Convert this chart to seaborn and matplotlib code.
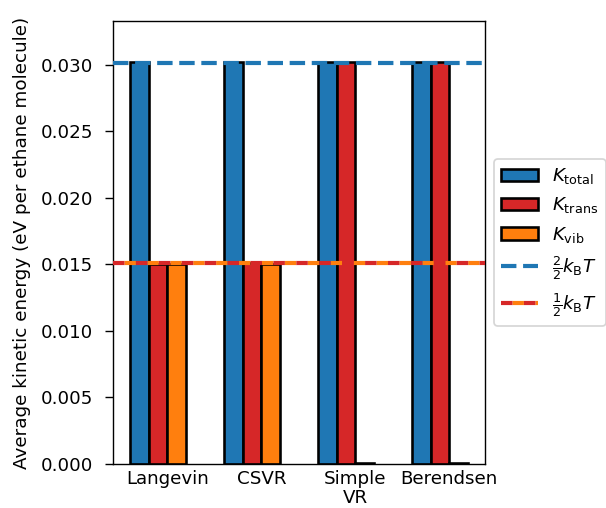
import matplotlib
matplotlib.use("Agg")
import matplotlib.pyplot as plt
from matplotlib.patches import Patch
from matplotlib.lines import Line2D
import numpy as np
import pandas as pd
import seaborn as sns

# Thermostats compared and the mean kinetic energy components (eV per molecule)
thermostats = ["Langevin", "CSVR", "Simple\nVR", "Berendsen"]
k_total = [0.0302, 0.0302, 0.0302, 0.0302]
k_trans = [0.0150, 0.0151, 0.0302, 0.0302]
k_vib = [0.0150, 0.0150, 0.00004, 0.00004]

# Reference lines: 2/2 kB T and 1/2 kB T at T = 350 K
kB = 8.617333e-5
temperature = 350.0
full_kT = 2 / 2 * kB * temperature
half_kT = 1 / 2 * kB * temperature

components = ["total", "trans", "vib"]
slots = components + ["empty"]  # keeps a fourth (empty) slot in each group
colors = {"total": "#1f77b4", "trans": "#d62728", "vib": "#ff7f0e", "empty": "white"}

df = pd.DataFrame({
    "thermostat": np.repeat(thermostats, 3),
    "component": components * len(thermostats),
    "energy": np.ravel(np.column_stack([k_total, k_trans, k_vib])),
})

fig = plt.figure(figsize=(606 / 125, 508 / 125), dpi=125)
ax = fig.add_axes([113 / 606, 1 - 464 / 508, (485 - 113) / 606, (464 - 21) / 508])

sns.barplot(
    data=df, x="thermostat", y="energy", hue="component",
    order=thermostats, hue_order=slots, palette=colors, saturation=1,
    width=0.8, edgecolor="black", linewidth=1.5, legend=False,
    errorbar=None, ax=ax,
)

ax.axhline(full_kT, color="#1f77b4", lw=2.4, ls="--", zorder=5)
ax.axhline(half_kT, color="#d62728", lw=2.4, ls=(0, (2.75, 2.75)),
           gapcolor="#ff7f0e", zorder=5)

ax.set_xlim(-0.58, 3.38)
ax.set_ylim(0, 0.0333)
ax.set_yticks(np.arange(0, 0.0301, 0.005))
ax.set_yticklabels([f"{v:.3f}" for v in np.arange(0, 0.0301, 0.005)])
ax.tick_params(axis="x", length=0, pad=3.5, labelsize=10.5)
ax.tick_params(axis="y", length=4.6, pad=7, labelsize=10.5)
for lbl in ax.get_xticklabels():
    lbl.set_linespacing(1.05)
ax.set_xlabel("")
ax.set_ylabel("Average kinetic energy (eV per ethane molecule)",
              fontsize=10.6, labelpad=5.5)

handles = [
    Patch(facecolor=colors["total"], edgecolor="black", linewidth=1.5),
    Patch(facecolor=colors["trans"], edgecolor="black", linewidth=1.5),
    Patch(facecolor=colors["vib"], edgecolor="black", linewidth=1.5),
    Line2D([], [], color="#1f77b4", lw=2.4, ls="--"),
    Line2D([], [], color="#d62728", lw=2.4, ls=(0, (2.75, 2.75)), gapcolor="#ff7f0e"),
]
labels = [r"$K_{\rm total}$", r"$K_{\rm trans}$", r"$K_{\rm vib}$",
          r"$\frac{2}{2}k_{\rm B}T$", r"$\frac{1}{2}k_{\rm B}T$"]
ax.legend(handles, labels, loc="center left", bbox_to_anchor=(1, 0.5),
          fontsize=10.5)

fig.savefig("out.png", dpi=125)
